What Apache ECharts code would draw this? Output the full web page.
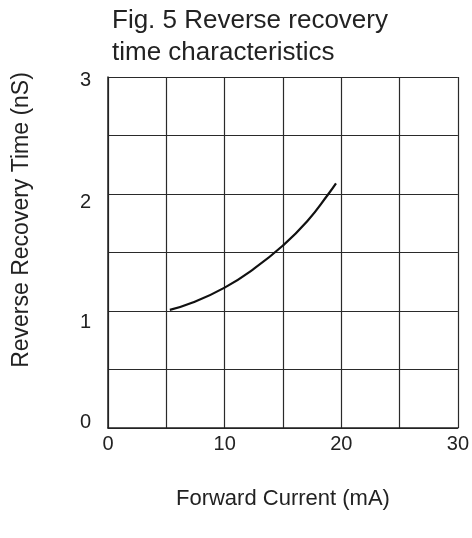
<!DOCTYPE html>
<html>
<head>
<meta charset="utf-8">
<script src="https://cdn.jsdelivr.net/npm/echarts@6/dist/echarts.min.js"></script>
<style>
html,body{margin:0;padding:0;background:#fff;}
#chart{width:472px;height:538px;}
</style>
</head>
<body>
<div id="chart"></div>
<script>
// Data
const forwardCurrent = [5.3, 7.2, 10, 12.5, 15, 17.1, 18.9, 19.55];   // mA
const recoveryTime   = [1.01, 1.07, 1.2, 1.36, 1.56, 1.77, 2.0, 2.09]; // nS
const xTickLabels = ['0', '10', '20', '30'];
const yTickLabels = ['0', '1', '2', '3'];

const chart = echarts.init(document.getElementById('chart'), null, {renderer: 'canvas'});
const font = 'Liberation Sans, Arial, Helvetica, sans-serif';
chart.setOption({
  animation: false,
  backgroundColor: '#fff',
  title: {
    text: 'Fig. 5 Reverse recovery\ntime characteristics',
    left: 107, top: 0,
    textStyle: {fontFamily: font, fontSize: 26, fontWeight: 'normal', color: '#222', lineHeight: 32}
  },
  graphic: [{
    type: 'text',
    x: 22, y: 220,
    rotation: Math.PI / 2,
    style: {
      text: 'Reverse Recovery Time (nS)',
      font: '23px ' + font,
      fill: '#222',
      align: 'center',
      verticalAlign: 'middle'
    }
  }],
  grid: {left: 108, right: 12, top: 77, bottom: 110, containLabel: false},
  xAxis: {
    type: 'value', min: 0, max: 30, interval: 5,
    name: 'Forward Current (mA)', nameLocation: 'middle', nameGap: 60,
    nameTextStyle: {fontFamily: font, fontSize: 22, color: '#222'},
    axisLine: {show: true, lineStyle: {color: '#222', width: 1.5}},
    axisTick: {show: false},
    splitLine: {show: true, lineStyle: {color: '#2a2a2a', width: 1.2}},
    axisLabel: {
      margin: 6, fontFamily: font, fontSize: 20, color: '#222',
      formatter: v => { const i = xTickLabels.indexOf(String(v)); return i >= 0 ? xTickLabels[i] : ''; }
    }
  },
  yAxis: {
    type: 'value', min: 0, max: 3, interval: 0.5,
    axisLine: {show: true, lineStyle: {color: '#222', width: 1.5}},
    axisTick: {show: false},
    splitLine: {show: true, lineStyle: {color: '#2a2a2a', width: 1.2}},
    axisLabel: {
      margin: 17, fontFamily: font, fontSize: 20, color: '#222',
      formatter: v => { const i = yTickLabels.indexOf(String(v)); return i >= 0 ? '{l' + i + '|' + yTickLabels[i] + '}' : ''; },
      rich: {
        l0: {fontFamily: font, fontSize: 20, color: '#222', padding: [0, 0, 12, 0]},
        l1: {fontFamily: font, fontSize: 20, color: '#222', padding: [22, 0, 0, 0]},
        l2: {fontFamily: font, fontSize: 20, color: '#222', padding: [16, 0, 0, 0]},
        l3: {fontFamily: font, fontSize: 20, color: '#222', padding: [6, 0, 0, 0]}
      }
    }
  },
  series: [{
    type: 'line',
    data: forwardCurrent.map((x, i) => [x, recoveryTime[i]]),
    smooth: true,
    showSymbol: false,
    lineStyle: {color: '#111', width: 2.2}
  }]
});
</script>
</body>
</html>
